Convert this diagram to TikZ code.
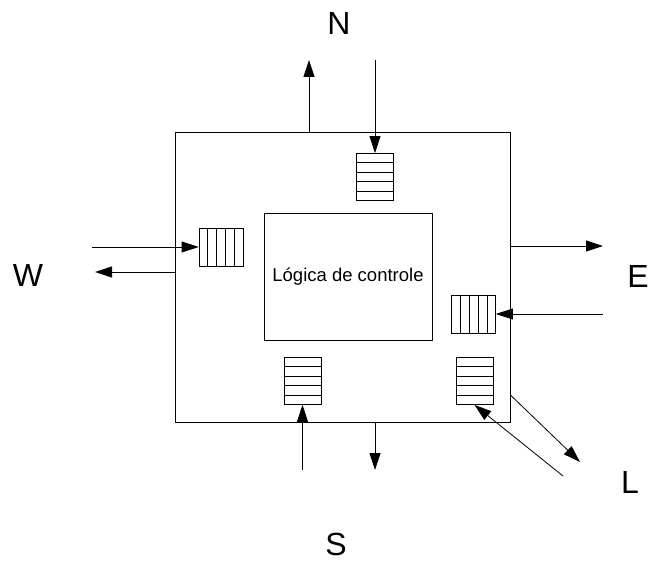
\documentclass[tikz,border=0pt]{standalone}
\usepackage{fontspec}
\setmainfont{Liberation Sans}
\usetikzlibrary{arrows.meta,positioning,calc}
\tikzset{
  caixa/.style={
    draw,
    rectangle,
    inner sep=0pt,
    line width=0.8pt
  },
  fila/.style={
    draw,
    rectangle,
    inner sep=0pt,
    line width=0.8pt
  },
  filah/.style={fila,minimum width=37pt,minimum height=47pt},
  filav/.style={fila,minimum width=44pt,minimum height=38pt},
  rotulo/.style={font=\fontsize{32}{36}\selectfont},
  flow/.style={-{Triangle[length=17pt,width=11pt]},line width=0.8pt}
}

\begin{document}
\begin{tikzpicture}[x=1pt,y=-1pt]
\useasboundingbox (0,0) rectangle (669,561);

\node[caixa, minimum width=335pt, minimum height=290pt] (roteador) at (342.5,277) {};
\node[caixa, minimum width=168pt, minimum height=127pt,
      font=\fontsize{18.5}{22}\selectfont] (logica) at (348,276.5) {Lógica de controle};

% filas de entrada
\node[filah] (fn) at (375,177) {};
\node[filah] (fs) at (302.5,381) {};
\node[filah] (fl) at (474.5,381) {};
\node[filav] (fw) at (221,247) {};
\node[filav] (fe) at (473.5,314) {};

\foreach \f in {fn,fs,fl}
  \foreach \i in {1,...,4}
    \draw[line width=0.8pt] ($(\f.north west)!\i/5!(\f.south west)$) -- ($(\f.north east)!\i/5!(\f.south east)$);
\foreach \f in {fw,fe}
  \foreach \i in {1,...,4}
    \draw[line width=0.8pt] ($(\f.north west)!\i/5!(\f.north east)$) -- ($(\f.south west)!\i/5!(\f.south east)$);

% rotulos
\node[rotulo] (rn) at (339,23) {N};
\node[rotulo] (rw) at (28,275) {W};
\node[rotulo] (re) at (638,276) {E};
\node[rotulo] (rs) at (336,544) {S};
\node[rotulo] (rl) at (630,482) {L};

% extremos livres
\coordinate (nsai) at (309,60);
\coordinate (nent) at (375,60);
\coordinate (went) at (92,247);
\coordinate (wsai) at (95,272);
\coordinate (esai) at (603,246);
\coordinate (eent) at (603,314);
\coordinate (ssai) at (375,470);
\coordinate (sent) at (302.5,470);
\coordinate (lsai) at (580,462);
\coordinate (lent) at (563,476);

\draw[flow] (nsai |- roteador.north) -- (nsai);
\draw[flow] (nent) -- (fn.north);
\draw[flow] (went) -- (fw.west);
\draw[flow] (wsai -| roteador.west) -- (wsai);
\draw[flow] (esai -| roteador.east) -- (esai);
\draw[flow] (eent) -- (fe.east);
\draw[flow] (ssai |- roteador.south) -- (ssai);
\draw[flow] (sent) -- (fs.south);
\draw[flow] ($(roteador.east)+(0,118)$) -- (lsai);
\draw[flow] (lent) -- (fl.south);
\end{tikzpicture}
\end{document}
